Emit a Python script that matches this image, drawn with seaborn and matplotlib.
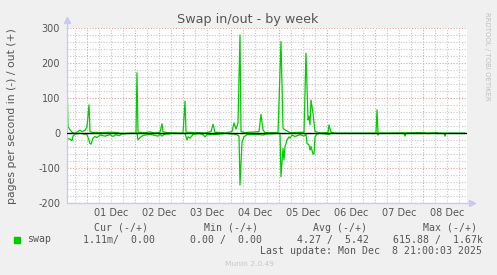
import matplotlib
matplotlib.use("Agg")
import matplotlib.pyplot as plt
import seaborn as sns
import pandas as pd
from matplotlib.patches import Rectangle
from matplotlib.ticker import MultipleLocator, FixedLocator

# ---------------- data (hours since 30 Nov 00:00) ----------------
out_hours = [14.0, 14.5, 15.0, 15.5, 16.5, 18.0, 20.5, 21.5, 23.0, 24.0, 25.0, 25.5,
             26.5, 30.5, 35.5, 39.5, 40.5, 48.5, 49.0, 49.5, 53.0, 55.5, 58.0, 60.5,
             61.5, 62.0, 64.5, 72.0, 73.0, 73.5, 78.0, 83.0, 86.0, 87.0, 88.0, 93.0,
             96.5, 97.5, 98.5, 99.5, 100.5, 101.0, 103.0, 110.0, 111.0, 112.0, 113.0,
             119.5, 121.0, 122.0, 123.0, 125.5, 132.5, 133.5, 134.5, 135.0, 135.5,
             136.0, 137.0, 138.0, 140.5, 144.5, 145.0, 146.0, 148.5, 168.5, 169.0,
             169.5, 193.0, 193.5, 199.0, 199.5, 213.0]
out_values = [165, 19, 15, 10, 3, 0, 9, 5, 8, 19, 81, 5,
              3, 2, 3, 2, 0, 0, 173, 3, 2, 4, 1, 3,
              27, 4, 2, 0, 92, 3, 2, 1, 5, 26, 3, 1,
              5, 30, 12, 30, 281, 5, 2, 5, 54, 10, 2,
              2, 262, 14, 10, 2, 3, 229, 38, 48, 24,
              95, 57, 5, 1, 2, 24, 3, 0, 0, 67,
              0, 2, 0, 2, 0, 0]

in_hours = [14.0, 14.5, 15.5, 16.5, 17.0, 18.0, 20.5, 24.0, 25.5, 26.0, 27.0, 28.0,
            29.0, 30.5, 33.0, 35.5, 37.0, 38.5, 40.0, 41.5, 45.5, 49.0, 49.5, 50.5,
            52.0, 55.5, 59.5, 60.5, 61.5, 62.5, 66.5, 73.0, 74.0, 74.5, 75.5, 77.0,
            80.5, 82.0, 83.0, 84.0, 88.5, 93.0, 98.5, 100.0, 100.5, 101.5, 102.5,
            104.0, 109.5, 112.0, 113.5, 120.5, 121.0, 122.0, 122.5, 123.0, 124.0,
            125.0, 125.5, 126.5, 128.0, 130.5, 132.5, 133.5, 134.0, 135.0, 135.5,
            136.0, 137.0, 137.5, 138.0, 139.0, 140.5, 145.0, 146.0, 169.0, 169.5,
            170.0, 182.5, 183.0, 183.5, 202.5, 203.0, 203.5, 213.0]
in_values = [12, 15, 17, 21, 8, 2, 0, 3, 29, 31, 14, 9,
             12, 5, 8, 4, 9, 4, 7, 2, 0, 0, 19, 12,
             6, 3, 8, 3, 8, 3, 0, 0, 19, 10, 14, 3,
             0, 4, 10, 4, 3, 0, 3, 8, 148, 25, 10,
             4, 3, 5, 2, 0, 124, 43, 76, 38, 19,
             10, 14, 5, 9, 4, 8, 2, 29, 33, 48,
             38, 59, 59, 10, 2, 0, 3, 0, 0, 5,
             0, 0, 8, 0, 0, 8, 0, 0]

day_labels = ["01 Dec", "02 Dec", "03 Dec", "04 Dec", "05 Dec", "06 Dec", "07 Dec", "08 Dec"]
day_numbers = [1, 2, 3, 4, 5, 6, 7, 8]

legend_name = "swap"
legend_headers = ["Cur (-/+)", "Min (-/+)", "Avg (-/+)", "Max (-/+)"]
legend_values = ["1.11m/  0.00", "0.00 /  0.00", "4.27 /  5.42", "615.88 /  1.67k"]
last_update = "Last update: Mon Dec  8 21:00:03 2025"

# ---------------- figure ----------------
sns.set_style("white")
plt.rcParams["font.family"] = ["DejaVu Sans"]
plt.rcParams["axes.unicode_minus"] = False

W, H = 497, 275
fig = plt.figure(figsize=(W / 100, H / 100), dpi=100, facecolor="#f0f0f0")
ax = fig.add_axes([67 / W, 1 - 203.3 / H, 400 / W, 175 / H])
ax.set_facecolor("white")

GREEN = "#00cc00"
df_out = pd.DataFrame({"hour": out_hours, "value": out_values})
df_in = pd.DataFrame({"hour": in_hours, "value": [-v for v in in_values]})

sns.lineplot(data=df_out, x="hour", y="value", ax=ax, color=GREEN, lw=0.9,
             estimator=None, sort=False, zorder=2)
sns.lineplot(data=df_in, x="hour", y="value", ax=ax, color=GREEN, lw=0.9,
             estimator=None, sort=False, zorder=2)

ax.axhline(0, color="black", lw=1.0, zorder=3)

ax.set_xlim(14, 214)
ax.set_ylim(-200, 300)

# grid
MAJ = "#e6a0a0"
MIN = "#c8c8c8"
ax.yaxis.set_major_locator(MultipleLocator(100))
ax.yaxis.set_minor_locator(MultipleLocator(20))
ax.grid(which="major", axis="y", color=MAJ, lw=0.8, ls=(0, (1, 1.5)), zorder=0)
ax.grid(which="minor", axis="y", color=MIN, lw=0.8, ls=(0, (1, 1.5)), zorder=0)

ax.xaxis.set_major_locator(FixedLocator([24 * d + 12 for d in day_numbers]))
ax.set_xticklabels(day_labels)
ax.xaxis.set_minor_locator(FixedLocator([h for h in range(18, 214, 6) if h % 24 != 0]))
ax.grid(which="both", axis="x", color=MIN, lw=0.8, ls=(0, (1, 1.5)), zorder=0)
for d in day_numbers:
    ax.axvline(24 * d, color=MAJ, lw=0.8, ls=(0, (1, 1.5)), zorder=0.5)

ax.set_xlabel("")
ax.set_ylabel("")
ax.tick_params(axis="both", which="both", length=0, labelsize=7, labelcolor="#555555")
ax.tick_params(axis="y", pad=5)
ax.tick_params(axis="x", pad=3.5)

for s in ["top", "right"]:
    ax.spines[s].set_visible(False)
AX = "#c8c8f0"
for s in ["left", "bottom"]:
    ax.spines[s].set_color(AX)
    ax.spines[s].set_linewidth(0.9)
# axis arrows
ax.plot([0, 0], [1, 1 + 8 / 175], transform=ax.transAxes, color=AX, lw=0.9, clip_on=False)
ax.plot([0], [1 + 8 / 175], transform=ax.transAxes, marker="^", ms=4, color=AX, clip_on=False)
ax.plot([1, 1 + 5 / 400], [0, 0], transform=ax.transAxes, color=AX, lw=0.9, clip_on=False)
ax.plot([1 + 5 / 400], [0], transform=ax.transAxes, marker=">", ms=4, color=AX, clip_on=False)

# titles / labels
fig.text(248 / W, 1 - 20 / H, "Swap in/out - by week", ha="center", va="center",
         fontsize=9.2, color="#555555")
fig.text(12 / W, 1 - 116 / H, "pages per second in (-) / out (+)", rotation=90,
         ha="center", va="center", fontsize=7.8, color="#555555")
fig.text(487.5 / W, 1 - 56 / H, "RRDTOOL / TOBI OETIKER", rotation=270,
         ha="center", va="center", fontsize=5, color="#c0c0c0")

# legend block
MONO = "DejaVu Sans Mono"
FS = 7.15
TC = "#555555"
fig.patches.append(Rectangle((14 / W, 1 - 242.7 / H), 6 / W, 6 / H,
                             transform=fig.transFigure, color=GREEN))
fig.text(26.7 / W, 1 - 239.5 / H, legend_name, ha="left", va="center",
         family=MONO, fontsize=FS, color=TC)
header_x = [94.3, 204, 313.3, 423]
value_x = [83.3, 190, 297.3, 392.7]
for hx, htxt in zip(header_x, legend_headers):
    fig.text(hx / W, 1 - 228 / H, htxt, ha="left", va="center",
             family=MONO, fontsize=FS, color=TC)
for vx, vtxt in zip(value_x, legend_values):
    fig.text(vx / W, 1 - 239.5 / H, vtxt, ha="left", va="center",
             family=MONO, fontsize=FS, color=TC)
fig.text(482.5 / W, 1 - 251 / H, last_update, ha="right", va="center",
         family=MONO, fontsize=FS, color=TC)
fig.text(249 / W, 1 - 264 / H, "Munin 2.0.49", ha="center", va="center",
         fontsize=5.4, color="#c8c8c8")

fig.savefig("out.png", dpi=100, facecolor=fig.get_facecolor())
